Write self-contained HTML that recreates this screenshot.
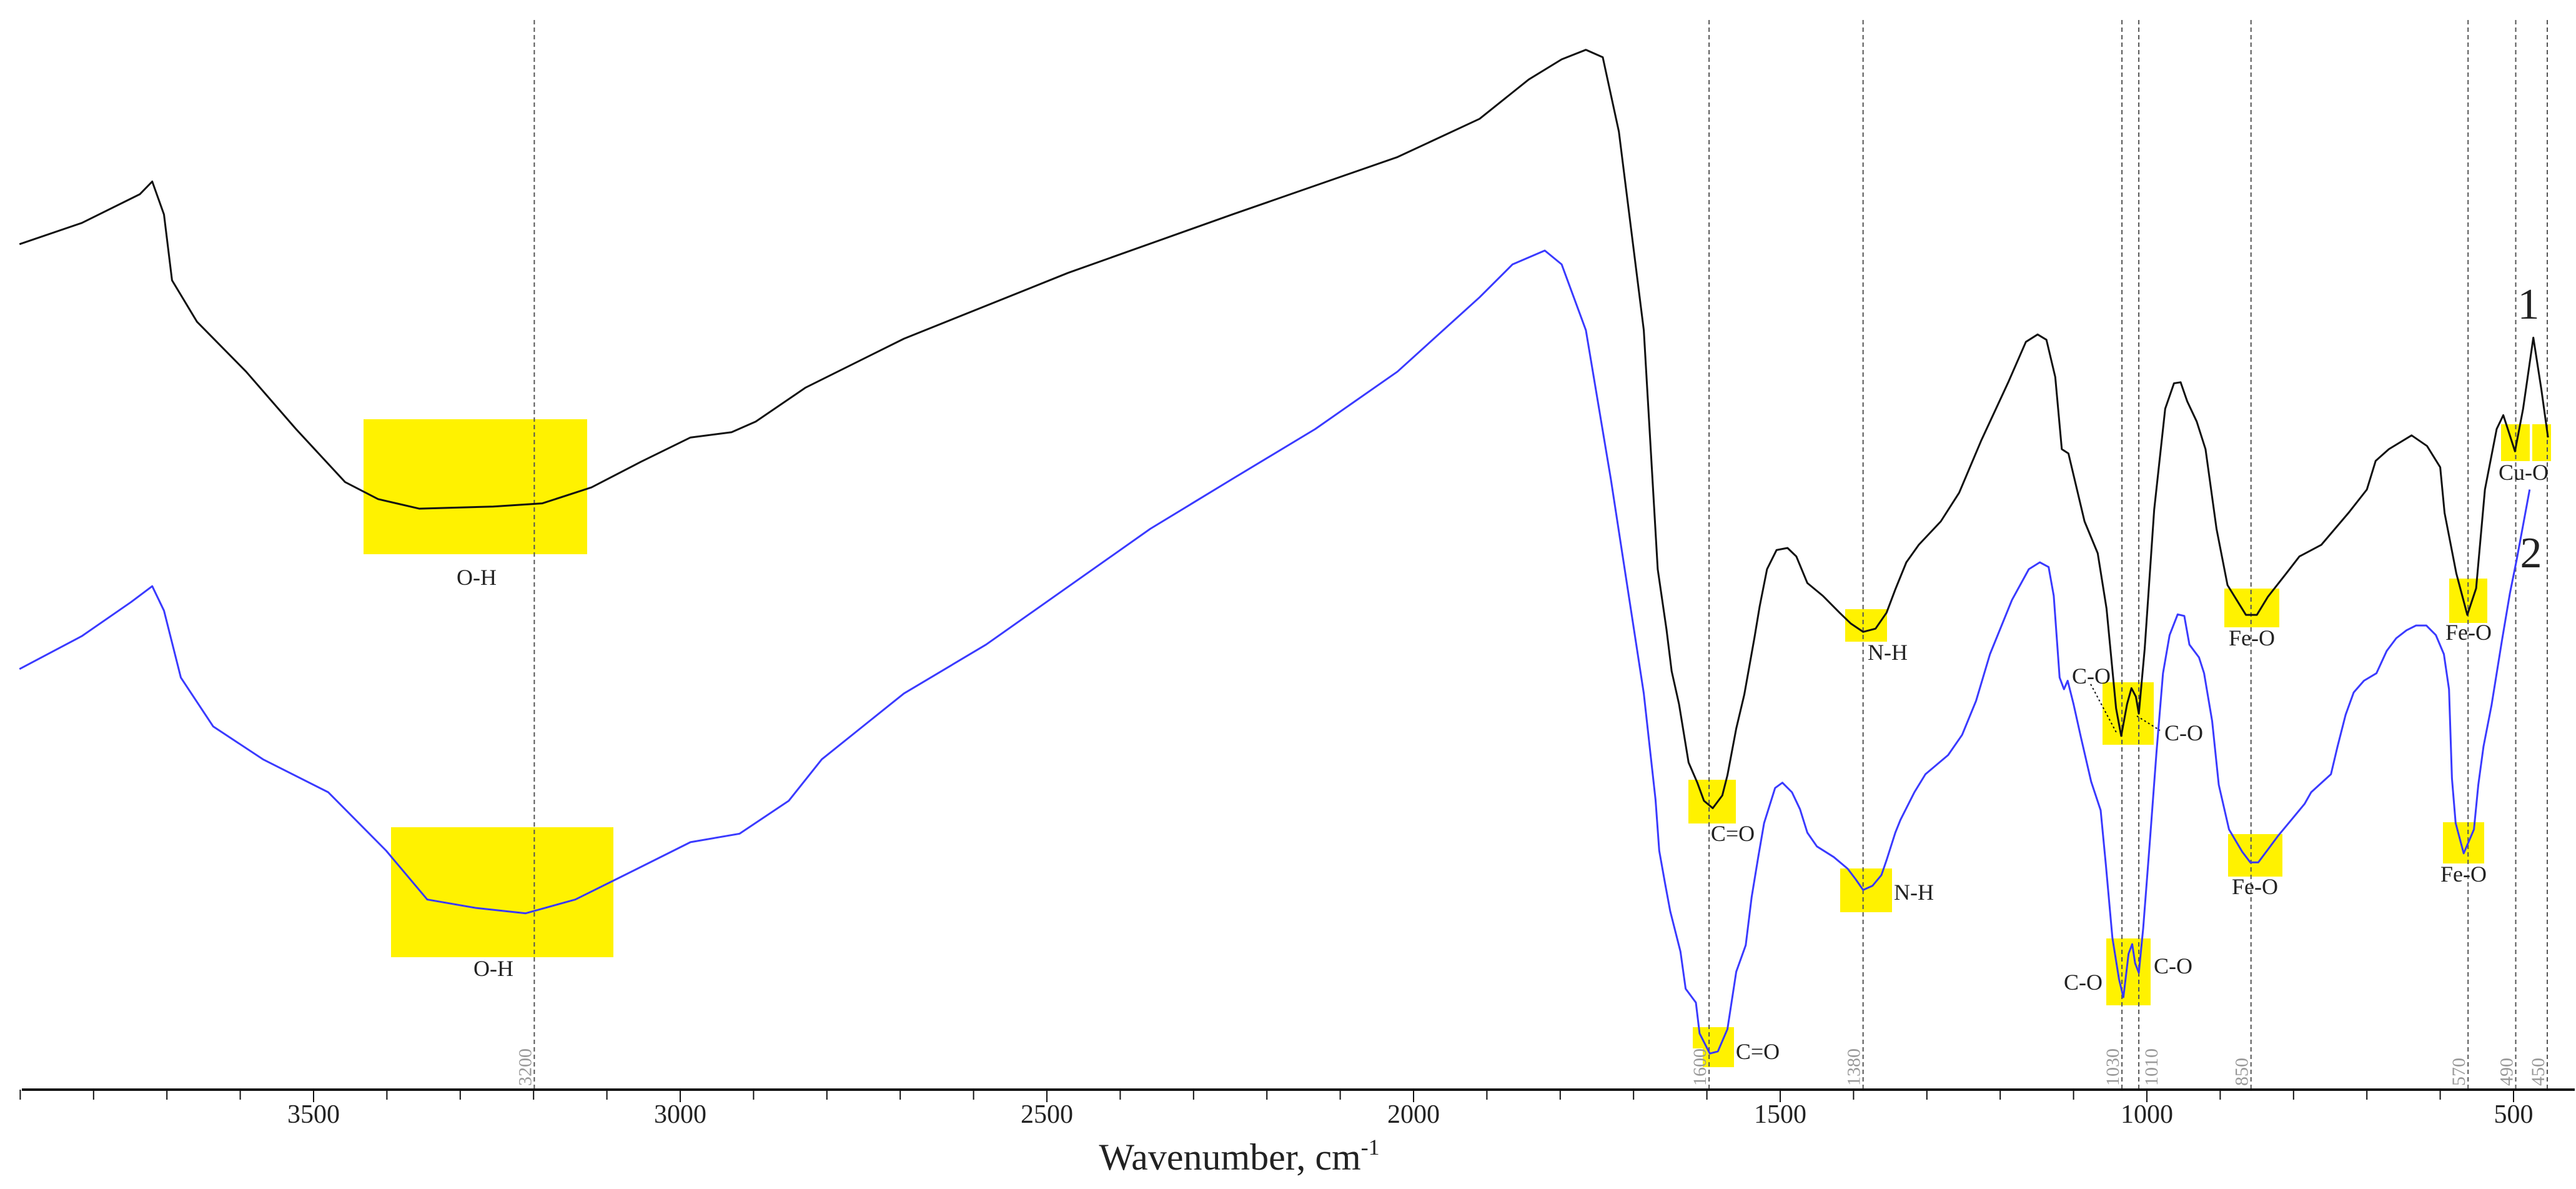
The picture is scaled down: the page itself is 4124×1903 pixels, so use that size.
<!DOCTYPE html>
<html><head><meta charset="utf-8"><style>
html,body{margin:0;padding:0;background:#fff;}
svg{display:block;font-family:"Liberation Serif",serif;}
</style></head><body>
<svg id="chart" width="4124" height="1903" viewBox="0 0 4124 1903" xmlns="http://www.w3.org/2000/svg">
<g id="boxes"></g>
<g id="refs"></g>
<g id="curves"></g>
<g id="labels"></g>
<g id="axis"></g>
</svg>
<script>
const wn1 = [3901,3816,3737,3720,3704,3693,3659,3592,3524,3457,3412,3356,3255,3188,3121,3054,2986,2930,2897,2829,2695,2471,2247,2022,1910,1843,1798,1765,1742,1720,1686,1667,1655,1648,1638,1625,1613,1604,1592,1579,1572,1560,1549,1535,1528,1518,1505,1490,1478,1463,1442,1419,1404,1387,1370,1355,1343,1328,1311,1281,1256,1226,1189,1165,1149,1137,1125,1116,1107,1085,1067,1055,1042,1035,1027,1021,1015,1011,1003,990,975,963,954,945,932,920,905,890,865,850,835,810,792,762,725,700,688,670,639,618,600,594,578,563,551,539,523,514,506,498,487,473,462,453];
const t1 = [79.6,81.6,84.3,85.5,82.4,76.2,72.3,67.6,62.2,57.2,55.6,54.7,54.9,55.2,56.7,59.1,61.4,61.9,62.9,66.1,70.7,76.9,82.4,87.8,91.4,95.1,97.0,97.9,97.2,90.2,71.5,49.0,43.3,39.4,36.3,30.8,28.9,27.2,26.5,27.7,29.6,34.0,37.2,42.6,45.5,49.0,50.8,51.0,50.2,47.7,46.5,44.9,43.9,43.1,43.4,44.9,47.1,49.65,51.3,53.5,56.2,61.1,66.6,70.4,71.1,70.6,67.1,60.3,59.9,53.5,50.5,45.3,35.9,33.3,36.3,37.8,37.0,35.4,41.5,54.6,64.1,66.5,66.6,64.8,62.9,60.3,52.8,47.5,44.7,44.7,46.4,48.6,50.2,51.3,54.3,56.5,59.2,60.3,61.6,60.6,58.6,54.3,48.6,44.7,47.2,56.5,62.2,63.5,61.8,60.1,64.1,70.8,65.9,61.4];
const wn2 = [3901,3816,3749,3720,3704,3681,3637,3569,3480,3401,3345,3278,3211,3143,3076,2986,2919,2852,2807,2695,2583,2359,2247,2134,2022,1910,1865,1821,1798,1765,1731,1686,1670,1665,1657,1650,1636,1629,1615,1610,1596,1585,1572,1560,1547,1539,1530,1522,1507,1497,1484,1473,1463,1450,1427,1408,1397,1387,1374,1362,1355,1343,1336,1317,1302,1271,1252,1233,1214,1184,1161,1146,1134,1127,1119,1113,1108,1100,1090,1076,1063,1056,1047,1038,1032,1025,1020,1016,1011,1005,996,987,978,969,958,949,942,929,922,911,902,888,870,859,848,834,821,803,785,776,749,740,729,718,704,687,673,660,646,633,619,606,595,588,584,579,568,554,548,541,530,516,505,496,486,478];
const t2 = [39.6,42.7,45.9,47.4,45.1,38.8,34.2,31.1,28.0,22.5,17.9,17.1,16.6,17.9,20.2,23.3,24.1,27.2,31.1,37.3,41.9,52.8,57.5,62.2,67.6,74.6,77.7,79.0,77.7,71.5,57.5,37.3,27.3,22.5,19.4,16.8,13.0,9.5,8.2,5.3,3.4,3.6,5.7,11.1,13.6,18.1,21.9,25.1,28.4,28.9,28.0,26.4,24.2,22.9,21.9,20.8,19.8,18.8,19.2,20.2,21.6,24.2,25.4,28.0,29.7,31.5,33.4,36.6,41.0,46.1,49.0,49.65,49.2,46.5,38.8,37.7,38.5,36.3,33.2,29.0,26.3,21.2,14.3,10.4,8.7,12.8,13.7,11.9,11.0,15.2,23.3,31.7,39.2,42.8,44.75,44.6,41.9,40.7,39.2,34.7,28.7,24.5,22.4,21.4,21.4,22.7,23.9,25.4,26.9,28.0,29.7,32.3,35.3,37.4,38.5,39.2,41.3,42.5,43.25,43.7,43.7,42.8,41.0,37.7,29.3,25.1,22.25,24.5,28.7,32.3,36.2,42.2,46.7,49.8,53.5,56.5];
const majorTicks = [3500,3000,2500,2000,1500,1000,500];
const majorLabels = ["3500","3000","2500","2000","1500","1000","500"];
const refValues = [3199,1597,1387,1034,1011,858,562,497,454];
const refLabels = ["3200","1600","1380","1030","1010","850","570","490","450"];

const NS="http://www.w3.org/2000/svg";
function xS(v){return 3437-(v-1000)*1.174;}
function yS(t){return 1744-t*17;}
function mk(tag,attrs,parent){const e=document.createElementNS(NS,tag);for(const k in attrs)e.setAttribute(k,attrs[k]);parent.appendChild(e);return e;}
const boxes=document.getElementById('boxes'),refs=document.getElementById('refs'),curves=document.getElementById('curves'),labels=document.getElementById('labels'),axis=document.getElementById('axis');

// highlight boxes [x,y,w,h]
const boxList=[[582,671,358,216],[626,1324,356,208],[2703,1248,76,70],[2954,975,67,52],[2946,1390,83,70],[2710,1644,66,34],[2726,1644,50,64],[3366,1092,82,100],[3372,1502,71,107],[3561,942,88,62],[3567,1335,87,68],[3921,926,61,71],[3911,1316,66,66],[4004,679,46,59],[4054,679,30,59]];
boxList.forEach(b=>{const r=mk('rect',{x:b[0],y:b[1],width:b[2],height:b[3],fill:'#fff200'},boxes);

});

refValues.forEach((v,i)=>{const x=xS(v);
const l=mk('line',{x1:x,y1:32,x2:x,y2:1744,stroke:'#555','stroke-width':2,'stroke-dasharray':'7,5'},refs);


const tx = refLabels[i]==='1010' ? x+30 : x-5;
const t=mk('text',{x:0,y:0,transform:'translate('+tx+',1738) rotate(-90)','font-size':30,fill:'#999'},refs);
t.textContent=refLabels[i];

});

function path(wn,t){return wn.map((v,i)=>(i?'L':'M')+xS(v).toFixed(1)+','+yS(t[i]).toFixed(1)).join(' ');}
const p1=mk('path',{d:path(wn1,t1),fill:'none',stroke:'#111','stroke-width':3,'stroke-linejoin':'round'},curves);


const p2=mk('path',{d:path(wn2,t2),fill:'none',stroke:'#3a3aff','stroke-width':3,'stroke-linejoin':'round'},curves);



// leader lines
[[3347,1095,3389,1174],[3421,1146,3458,1169]].forEach(a=>{const l=mk('line',{x1:a[0],y1:a[1],x2:a[2],y2:a[3],stroke:'#111','stroke-width':2,'stroke-dasharray':'3,4'},labels);

});

const lab=[["O-H",763,936,36],["O-H",790,1562,36],["C=O",2774,1346,36],["N-H",3022,1056,36],["N-H",3064,1440,36],["C=O",2814,1695,36],["C-O",3348,1094,36],["C-O",3496,1185,36],["C-O",3335,1584,36],["C-O",3479,1558,36],["Fe-O",3605,1033,36],["Fe-O",3610,1431,36],["Fe-O",3952,1024,36],["Fe-O",3944,1411,36],["Cu-O",4040,768,36],["1",4048,510,70],["2",4052,908,70]];
lab.forEach(a=>{const t=mk('text',{x:a[1],y:a[2],'font-size':a[3],'text-anchor':'middle',fill:'#222'},labels);
t.textContent=a[0];

});

const al=mk('line',{x1:35,y1:1744,x2:4122,y2:1744,stroke:'#111','stroke-width':4},axis);


for(let v=3900;v>=500;v-=100){const x=xS(v);const major=v%500===0;
const tk=mk('line',{x1:x,y1:1744,x2:x,y2:major?1764:1760,stroke:'#111','stroke-width':2},axis);

}
majorTicks.forEach((v,i)=>{const t=mk('text',{x:xS(v),y:1797,'font-size':42,'text-anchor':'middle',fill:'#222'},axis);
t.textContent=majorLabels[i];

});
const title=mk('text',{x:1984,y:1872,'font-size':60,'text-anchor':'middle',fill:'#222'},axis);


title.textContent='Wavenumber, cm';
const sup=mk('tspan',{dy:-24,'font-size':36},title);
sup.textContent='-1';
</script>
</body></html>
